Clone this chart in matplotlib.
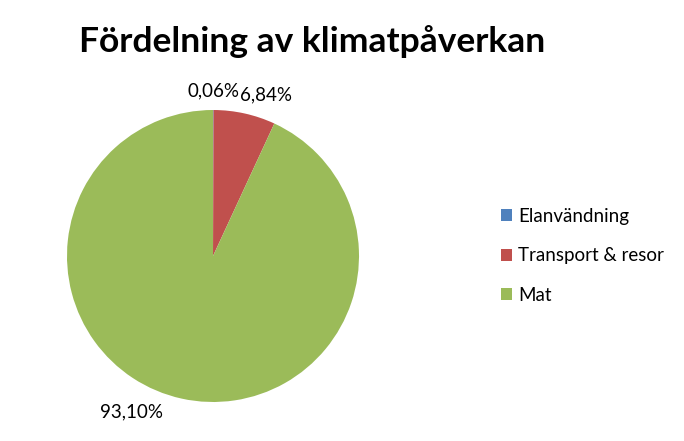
import numpy as np
import matplotlib.pyplot as plt
from matplotlib.patches import Patch

plt.rcParams['font.family'] = ['Lato', 'DejaVu Sans']

categories = ['Elanvändning', 'Transport & resor', 'Mat']
shares = [0.06, 6.84, 93.10]
colors = ['#4F81BD', '#C0504D', '#9BBB59']
title = 'Fördelning av klimatpåverkan'


def fmt(p):
    return ('%.2f%%' % p).replace('.', ',')


fig = plt.figure(figsize=(6.84, 4.41), dpi=100)
ax = fig.add_axes([67 / 684, 39 / 441, 292 / 684, 292 / 441])

wedges, texts = ax.pie(shares, colors=colors, startangle=90, counterclock=False,
                       radius=1, wedgeprops=dict(linewidth=0))
ax.set_xlim(-1, 1)
ax.set_ylim(-1, 1)
ax.set_aspect('equal')
ax.axis('off')

# label placement (distance from centre, extra shift in points)
label_dist = [1.13, 1.16, 1.18]
label_shift = [(0, 0), (12, -3), (-32, 9)]
for w, val, d, (sx, sy) in zip(wedges, shares, label_dist, label_shift):
    ang = np.deg2rad((w.theta1 + w.theta2) / 2)
    ax.annotate(fmt(val), xy=(d * np.cos(ang), d * np.sin(ang)),
                xytext=(sx, sy), textcoords='offset points',
                ha='center', va='center', fontsize=13.5, color='black',
                annotation_clip=False)

fig.text(312 / 684, 1 - 42 / 441, title, ha='center', va='center',
         fontsize=25.5, fontweight='bold')

handles = [Patch(facecolor=c, edgecolor='none') for c in colors]
fig.legend(handles, categories, loc='center left',
           bbox_to_anchor=(484 / 684, 1 - 256 / 441), frameon=False,
           fontsize=13.5, handlelength=0.6, handleheight=0.6,
           handletextpad=0.3, labelspacing=1.2)

fig.savefig('out.png', dpi=100)
